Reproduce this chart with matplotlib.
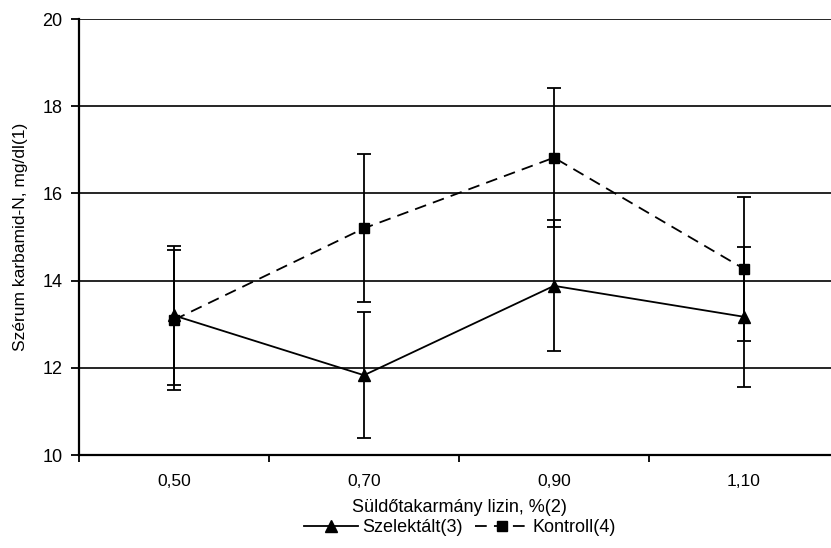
import matplotlib
matplotlib.use("Agg")
import matplotlib.pyplot as plt
from matplotlib.lines import Line2D
import numpy as np

plt.rcParams['font.family'] = ['Liberation Sans', 'DejaVu Sans']

categories = ["0,50", "0,70", "0,90", "1,10"]
szelektalt = [13.2, 11.83, 13.88, 13.17]
szelektalt_err = [1.6, 1.45, 1.5, 1.6]
kontroll = [13.1, 15.2, 16.82, 14.27]
kontroll_err = [1.6, 1.7, 1.6, 1.65]
yticks = [10, 12, 14, 16, 18, 20]

fig = plt.figure(figsize=(8.31, 5.48), dpi=100)
ax = fig.add_axes([79/831, 93/548, 760/831, 436/548])

x = np.arange(len(categories))
dash = (0, (6.5, 4))
ax.errorbar(x, szelektalt, yerr=szelektalt_err, color='black', lw=1.3,
            marker='^', ms=8, capsize=5, capthick=1.3, elinewidth=1.3, zorder=3)
ax.errorbar(x, kontroll, yerr=kontroll_err, color='black', lw=1.3, ls=dash,
            marker='s', ms=7, capsize=5, capthick=1.3, elinewidth=1.3, zorder=3)

ax.set_xlim(-0.5, 3.5)
ax.set_ylim(10, 20)
ax.set_yticks(yticks)
ax.set_yticklabels([str(t) for t in yticks], fontsize=13)
ax.set_xticks(x)
ax.set_xticklabels(categories, fontsize=12.5)
ax.tick_params(axis='x', length=0, pad=14)
ax.set_xticks(np.arange(-0.5, 3.6, 1.0), minor=True)
ax.tick_params(axis='x', which='minor', length=5, width=1.3, direction='out')
ax.tick_params(axis='y', length=6, width=1.3, direction='out', pad=6)

for t in yticks[1:]:
    ax.axhline(t, color='black', lw=1.2, zorder=1)

for s in ['top', 'right']:
    ax.spines[s].set_visible(False)
for s in ['left', 'bottom']:
    ax.spines[s].set_linewidth(1.6)

ax.set_xlabel("Süldőtakarmány lizin, %(2)", fontsize=13, labelpad=7)
ax.set_ylabel("Szérum karbamid-N, mg/dl(1)", fontsize=12.5, labelpad=10)

handles = [Line2D([], [], color='black', lw=1.3, marker='^', ms=8),
           Line2D([], [], color='black', lw=1.3, ls=dash, marker='s', ms=7)]
labels = ['Szelektált(3)', 'Kontroll(4)']
fig.legend(handles, labels, loc='center', bbox_to_anchor=(460/831, 1 - 528/548),
           ncol=2, frameon=False, fontsize=13, handlelength=3.0,
           columnspacing=0.7, handletextpad=0.2)

fig.savefig("out.png", dpi=100)
